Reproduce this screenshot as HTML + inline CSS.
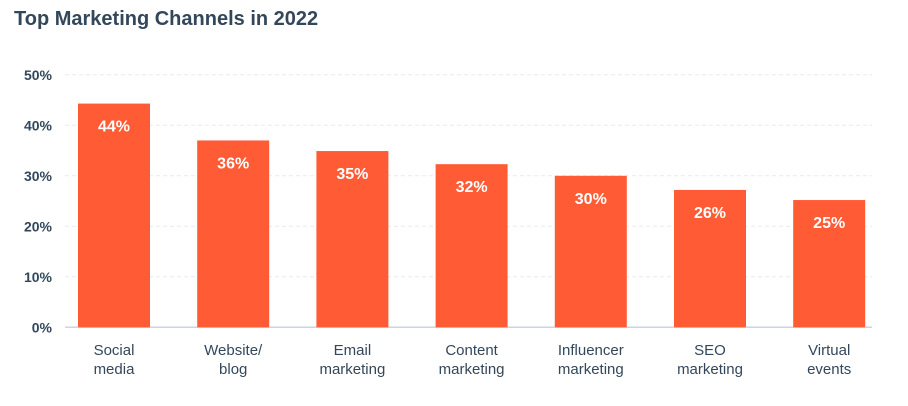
<!DOCTYPE html>
<html><head><meta charset="utf-8"><style>
body{margin:0;background:#fff;font-family:"Liberation Sans",sans-serif;}
#wrap{position:relative;width:908px;height:406px;overflow:hidden;}
h1{position:absolute;left:14px;top:8px;margin:0;font-size:20px;font-weight:bold;color:#33475b;}
</style></head><body>
<div id="wrap">
<h1>Top Marketing Channels in 2022</h1>
<svg id="chart" width="908" height="406"></svg>
</div>
<script>
const categories=[["Social","media"],["Website/","blog"],["Email","marketing"],["Content","marketing"],["Influencer","marketing"],["SEO","marketing"],["Virtual","events"]];
const values=[44.3,37.0,34.9,32.3,30.0,27.2,25.2];
const valueLabels=["44%","36%","35%","32%","30%","26%","25%"];
const ticks=[0,10,20,30,40,50];
const tickLabels=["0%","10%","20%","30%","40%","50%"];
const NS="http://www.w3.org/2000/svg";
const svg=document.getElementById('chart');
const y0=327.3,pxPer=5.05,x0=78,pitch=119.2,bw=72,left=65,right=872;
const yS=v=>y0-v*pxPer;
function mk(t,a){const e=document.createElementNS(NS,t);for(const k in a)e.setAttribute(k,a[k]);svg.appendChild(e);return e;}
ticks.forEach((t,i)=>{
 const g=mk('line',{x1:left,x2:right,y1:yS(t),y2:yS(t),stroke:t===0?'#cbd6e2':'#e5eaf0','stroke-width':t===0?1.5:1,'stroke-dasharray':t===0?'':'4,3'});
 
 
 const l=mk('text',{x:52,y:yS(t)+5,'text-anchor':'end','font-size':14,'font-weight':'bold',fill:'#33475b'});
 l.textContent=tickLabels[i];
 
 
});
values.forEach((v,i)=>{
 const x=x0+i*pitch;
 const r=mk('rect',{x:x,y:yS(v),width:bw,height:y0-yS(v),fill:'#ff5c35'});
 
 
 const t=mk('text',{x:x+bw/2,y:yS(v)+28,'text-anchor':'middle','font-size':16,'font-weight':'bold',fill:'#fff'});
 t.textContent=valueLabels[i];
 
 
 categories[i].forEach((line,j)=>{
  const c=mk('text',{x:x+bw/2,y:355+j*19,'text-anchor':'middle','font-size':15,fill:'#33475b'});
  c.textContent=line;
  
  
 });
});
</script>
</body></html>
